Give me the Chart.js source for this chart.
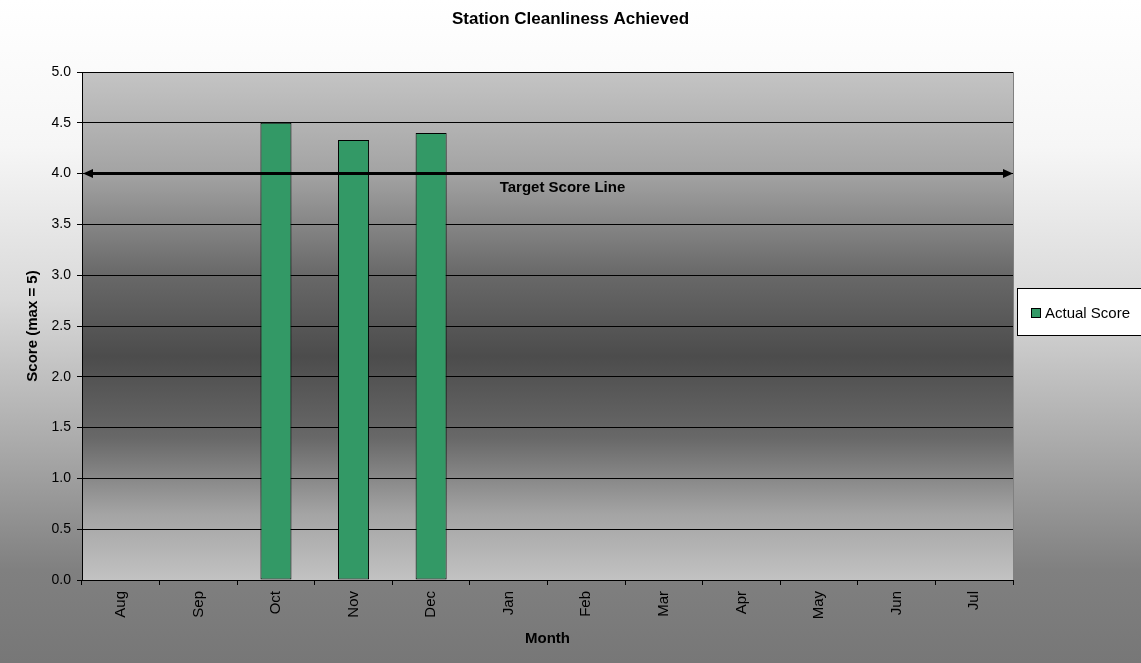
<!DOCTYPE html>
<html><head><meta charset="utf-8">
<script src="https://cdn.jsdelivr.net/npm/chart.js@4.4.1/dist/chart.umd.min.js"></script>
<style>html,body{margin:0;padding:0;background:#fff;overflow:hidden}</style>
</head><body>
<canvas id="c" width="1141" height="663" style="display:block;width:1141px;height:663px"></canvas>
<script>
const months = ['Aug','Sep','Oct','Nov','Dec','Jan','Feb','Mar','Apr','May','Jun','Jul'];
const actualScores = [null, null, 4.5, 4.33, 4.4, null, null, null, null, null, null, null];
const targetScore = 4.0;
const yTickValues = [0, 0.5, 1, 1.5, 2, 2.5, 3, 3.5, 4, 4.5, 5];
const chartTitle = 'Station Cleanliness Achieved';
const seriesLabel = 'Actual Score';
const targetLabel = 'Target Score Line';
const xAxisTitle = 'Month';
const yAxisTitle = 'Score (max = 5)';

const FONT = 'Arial, "Liberation Sans", sans-serif';

const backgroundPlugin = {
  id: 'bg',
  beforeDraw(chart) {
    const {ctx, width, height, chartArea: a} = chart;
    ctx.save();
    const g = ctx.createLinearGradient(0, 0, 0, height);
    g.addColorStop(0, '#ffffff');
    g.addColorStop(0.22, '#f6f6f6');
    g.addColorStop(0.45, '#d9d9d9');
    g.addColorStop(0.68, '#a8a8a8');
    g.addColorStop(0.86, '#808080');
    g.addColorStop(1, '#777777');
    ctx.fillStyle = g;
    ctx.fillRect(0, 0, width, height);
    const p = ctx.createLinearGradient(0, a.top, 0, a.bottom);
    p.addColorStop(0, '#c4c4c4');
    p.addColorStop(0.2, '#a3a3a3');
    p.addColorStop(0.4, '#686868');
    p.addColorStop(0.56, '#4c4c4c');
    p.addColorStop(0.72, '#686868');
    p.addColorStop(0.87, '#a4a4a4');
    p.addColorStop(1, '#c2c2c2');
    ctx.fillStyle = p;
    ctx.fillRect(a.left, a.top, a.right - a.left, a.bottom - a.top);
    ctx.strokeStyle = '#808080';
    ctx.lineWidth = 1;
    ctx.beginPath();
    ctx.moveTo(a.right + 0.5, a.top);
    ctx.lineTo(a.right + 0.5, a.bottom);
    ctx.stroke();
    ctx.restore();
  }
};

const targetPlugin = {
  id: 'target',
  afterDatasetsDraw(chart) {
    const {ctx, chartArea: a, scales} = chart;
    const y = scales.y.getPixelForValue(targetScore);
    ctx.save();
    ctx.strokeStyle = '#000';
    ctx.fillStyle = '#000';
    ctx.lineWidth = 3;
    ctx.beginPath();
    ctx.moveTo(a.left + 8, y);
    ctx.lineTo(a.right - 8, y);
    ctx.stroke();
    ctx.beginPath();
    ctx.moveTo(a.left + 1, y);
    ctx.lineTo(a.left + 11, y - 4.5);
    ctx.lineTo(a.left + 11, y + 4.5);
    ctx.closePath();
    ctx.fill();
    ctx.beginPath();
    ctx.moveTo(a.right, y);
    ctx.lineTo(a.right - 10, y - 4.5);
    ctx.lineTo(a.right - 10, y + 4.5);
    ctx.closePath();
    ctx.fill();
    ctx.font = 'bold 15px ' + FONT;
    ctx.textAlign = 'center';
    ctx.textBaseline = 'middle';
    ctx.fillText(targetLabel, (a.left + a.right) / 2 + 15, y + 14);
    ctx.restore();
  }
};

const legendPlugin = {
  id: 'customLegend',
  afterDraw(chart) {
    const {ctx} = chart;
    const ds = chart.data.datasets[0];
    const bx = 1017.5, by = 288.5, bw = 130, bh = 47;
    ctx.save();
    ctx.fillStyle = '#ffffff';
    ctx.fillRect(bx, by, bw, bh);
    ctx.strokeStyle = '#000';
    ctx.lineWidth = 1;
    ctx.strokeRect(bx, by, bw, bh);
    ctx.fillStyle = ds.backgroundColor;
    ctx.fillRect(1032, 309, 9, 9);
    ctx.strokeRect(1031.5, 308.5, 9, 9);
    ctx.fillStyle = '#000';
    ctx.font = '15px ' + FONT;
    ctx.textAlign = 'left';
    ctx.textBaseline = 'middle';
    ctx.fillText(ds.label, 1045, 314);
    ctx.restore();
  }
};

new Chart(document.getElementById('c'), {
  type: 'bar',
  data: {
    labels: months,
    datasets: [{
      label: seriesLabel,
      data: actualScores,
      backgroundColor: '#339966',
      borderColor: '#000000',
      borderWidth: 1,
      borderSkipped: false,
      barPercentage: 0.4,
      categoryPercentage: 1
    }]
  },
  options: {
    responsive: false,
    animation: false,
    devicePixelRatio: 1,
    layout: {padding: {top: 0, right: 0, bottom: 0, left: 0}},
    plugins: {
      legend: {display: false},
      tooltip: {enabled: false},
      title: {
        display: true,
        text: chartTitle,
        color: '#000',
        font: {family: FONT, size: 17, weight: 'bold'},
        padding: {top: 9, bottom: 42.6}
      }
    },
    scales: {
      x: {
        grid: {offset: true, drawOnChartArea: false, drawTicks: true, tickLength: 5, color: '#000', lineWidth: 1},
        border: {color: '#000', width: 1},
        ticks: {minRotation: 90, maxRotation: 90, autoSkip: false, color: '#000', padding: 6,
                font: {family: FONT, size: 15}},
        title: {display: true, text: xAxisTitle, color: '#000',
                font: {family: FONT, size: 15, weight: 'bold'}, padding: {top: 0, bottom: 15}},
        afterFit(s) { s.height = 83; }
      },
      y: {
        min: 0, max: 5,
        afterBuildTicks(s) { s.ticks = yTickValues.map(v => ({value: v})); },
        grid: {color: '#000', lineWidth: 1, tickLength: 5},
        border: {color: '#000', width: 1},
        ticks: {color: '#000', padding: 6, font: {family: FONT, size: 14},
                callback: v => Number(v).toFixed(1)},
        title: {display: true, text: yAxisTitle, color: '#000',
                font: {family: FONT, size: 15, weight: 'bold'}, padding: {top: 24, bottom: 0}},
        afterFit(s) { s.width = 82; }
      },
      legendSpace: {
        type: 'linear',
        position: 'right',
        display: true,
        grid: {display: false, drawTicks: false},
        border: {display: false},
        ticks: {display: false},
        afterFit(s) { s.width = 128; }
      }
    }
  },
  plugins: [backgroundPlugin, targetPlugin, legendPlugin]
});
</script>
</body></html>
